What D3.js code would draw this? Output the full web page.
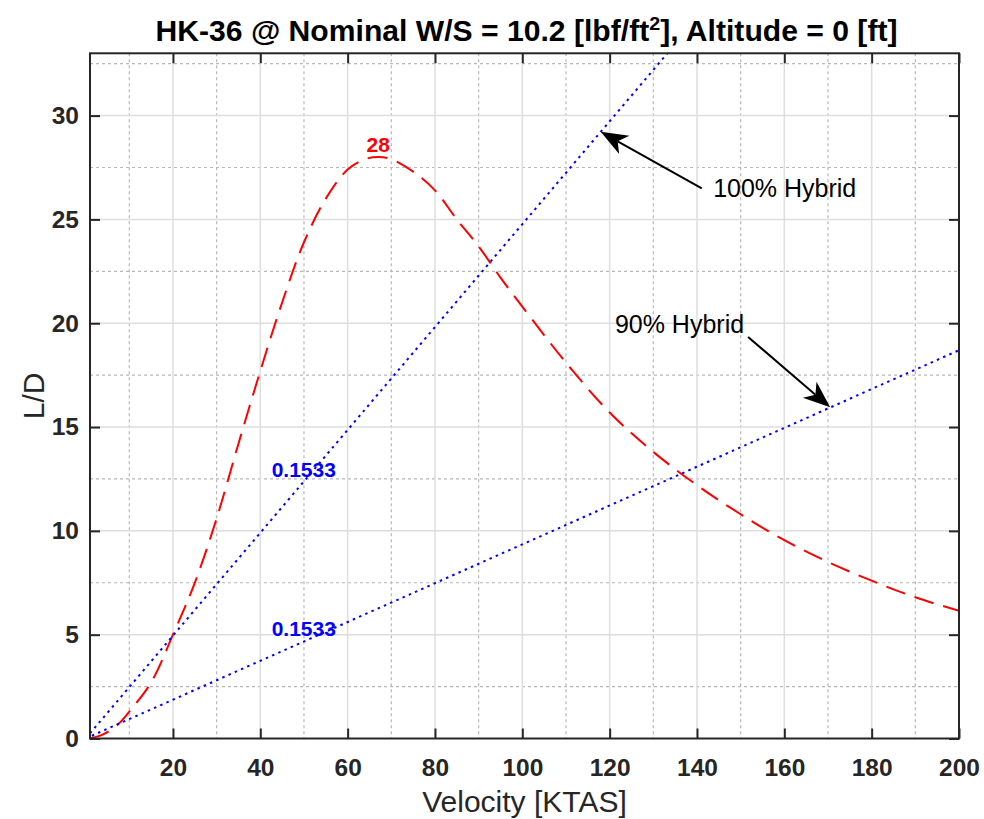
<!DOCTYPE html>
<html>
<head>
<meta charset="utf-8">
<script src="https://cdn.jsdelivr.net/npm/d3@7"></script>
<style>
  html, body { margin: 0; padding: 0; background: #fff; }
  svg { display: block; }
  text { font-family: "Liberation Sans", Arial, Helvetica, sans-serif; }
</style>
</head>
<body>
<svg id="chart" width="984" height="819"></svg>
<script>
// ---- data ----
const velocity = [1, 4, 7.5, 10, 15, 20, 25, 30, 35, 40, 45, 50, 55, 60, 64, 67, 70, 75, 80, 85, 90, 95, 100, 110, 120, 130, 140, 150, 160, 170, 180, 190, 200];
const liftToDrag = [0.01, 0.2, 0.7, 1.3, 2.7, 5.0, 7.5, 10.6, 14.2, 17.7, 21.0, 23.9, 26.0, 27.4, 27.9, 28.0, 27.9, 27.3, 26.4, 25.0, 23.7, 22.2, 20.8, 18.1, 15.7, 13.8, 12.2, 10.8, 9.55, 8.5, 7.6, 6.8, 6.15];
const hybridV = [0, 200];
const hybrid100 = [0, 49.54];
const hybrid90 = [0, 18.7];
const xTicks = [20, 40, 60, 80, 100, 120, 140, 160, 180, 200];
const yTicks = [0, 5, 10, 15, 20, 25, 30];
const xMinor = [10, 30, 50, 70, 90, 110, 130, 150, 170, 190];
const yMinor = [2.5, 7.5, 12.5, 17.5, 22.5, 27.5, 32.5];
const peakLabel = {v: 67.0, ld: 28.25, text: "28"};
const slopeLabels = [{v: 42.6, ld: 12.61, text: "0.1533"}, {v: 42.6, ld: 4.94, text: "0.1533"}];
const arrows = [
  {text: "100% Hybrid", tv: 143.7, tld: 26.06, v0: 141.1, ld0: 26.5, v1: 117.95, ld1: 29.22},
  {text: "90% Hybrid",  tv: 121.2, tld: 19.51, v0: 151.7, ld0: 19.34, v1: 170.5, ld1: 15.95}
];

// ---- layout ----
const svg = d3.select("#chart");
const L = 90, R = 959, T = 53.3, B = 738.5;
const x = d3.scaleLinear().domain([1, 200]).range([L, R]);
const y = d3.scaleLinear().domain([0, 33]).range([B, T]);
const axisColor = "#262626";

svg.append("defs").append("clipPath").attr("id", "plotclip")
  .append("rect").attr("x", L).attr("y", T).attr("width", R - L).attr("height", B - T);

// minor grid
const g = svg.append("g");
g.selectAll(".xminor").data(xMinor).enter().append("line")
  .attr("x1", d => x(d)).attr("x2", d => x(d)).attr("y1", T).attr("y2", B)
  .attr("stroke", "#b8b8b8").attr("stroke-width", 1.2).attr("stroke-dasharray", "3,3");
g.selectAll(".yminor").data(yMinor).enter().append("line")
  .attr("x1", L).attr("x2", R).attr("y1", d => y(d)).attr("y2", d => y(d))
  .attr("stroke", "#b8b8b8").attr("stroke-width", 1.2).attr("stroke-dasharray", "3,3");
// major grid
g.selectAll(".xmajor").data(xTicks.filter(d => d < 200)).enter().append("line")
  .attr("x1", d => x(d)).attr("x2", d => x(d)).attr("y1", T).attr("y2", B)
  .attr("stroke", "#dedede").attr("stroke-width", 1.5);
g.selectAll(".ymajor").data(yTicks.filter(d => d > 0)).enter().append("line")
  .attr("x1", L).attr("x2", R).attr("y1", d => y(d)).attr("y2", d => y(d))
  .attr("stroke", "#dedede").attr("stroke-width", 1.5);

// lines
const plot = svg.append("g").attr("clip-path", "url(#plotclip)");
const ldData = velocity.map((v, i) => [v, liftToDrag[i]]);
plot.append("path").datum(ldData)
  .attr("d", d3.line().x(d => x(d[0])).y(d => y(d[1])).curve(d3.curveCatmullRom.alpha(0.5)))
  .attr("fill", "none").attr("stroke", "#ff0000").attr("stroke-width", 2).attr("stroke-dasharray", "20,10");
[hybrid100, hybrid90].forEach(arr => {
  plot.append("path").datum(hybridV.map((v, i) => [v, arr[i]]))
    .attr("d", d3.line().x(d => x(d[0])).y(d => y(d[1])))
    .attr("fill", "none").attr("stroke", "#0000ff").attr("stroke-width", 2).attr("stroke-dasharray", "2.5,4.3");
});

// axes
const xAxisB = d3.axisBottom(x).tickValues(xTicks).tickSizeInner(-10).tickSizeOuter(0).tickPadding(20);
const yAxisL = d3.axisLeft(y).tickValues(yTicks).tickSizeInner(-10).tickSizeOuter(0).tickPadding(11);
const gx = svg.append("g").attr("transform", `translate(0,${B})`).call(xAxisB);
const gy = svg.append("g").attr("transform", `translate(${L},0)`).call(yAxisL);
const gxt = svg.append("g").attr("transform", `translate(0,${T})`).call(d3.axisTop(x).tickValues(xTicks).tickSizeInner(-10).tickSizeOuter(0).tickFormat(""));
const gyr = svg.append("g").attr("transform", `translate(${R},0)`).call(d3.axisRight(y).tickValues(yTicks).tickSizeInner(-10).tickSizeOuter(0).tickFormat(""));
[gx, gy, gxt, gyr].forEach(a => {
  a.select(".domain").remove();
  a.selectAll(".tick line").attr("stroke", axisColor).attr("stroke-width", 2);
  a.selectAll("text").attr("fill", axisColor).style("font-size", "24.5px").style("font-weight", "bold")
    .style("font-family", '"Liberation Sans", Arial, Helvetica, sans-serif');
});
gx.selectAll("text").attr("dy", "0.71em");
svg.append("rect").attr("x", L).attr("y", T).attr("width", R - L).attr("height", B - T)
  .attr("fill", "none").attr("stroke", axisColor).attr("stroke-width", 2);

// labels
svg.append("text").attr("x", (L + R) / 2).attr("y", 812).attr("text-anchor", "middle")
  .attr("fill", axisColor).style("font-size", "30px").text("Velocity [KTAS]");
svg.append("text").attr("transform", `translate(44,${(T + B) / 2}) rotate(-90)`).attr("text-anchor", "middle")
  .attr("fill", axisColor).style("font-size", "30px").text("L/D");
const title = svg.append("text").attr("x", (L + R) / 2 + 2).attr("y", 41).attr("text-anchor", "middle")
  .attr("fill", "#000").style("font-size", "29px").style("font-weight", "bold")
  .attr("textLength", 742).attr("lengthAdjust", "spacingAndGlyphs");
title.append("tspan").text("HK-36 @ Nominal W/S = 10.2 [lbf/ft");
title.append("tspan").attr("dy", -11).style("font-size", "19px").text("2");
title.append("tspan").attr("dy", 11).text("], Altitude = 0 [ft]");

// data labels
svg.append("text").attr("x", x(peakLabel.v)).attr("y", y(peakLabel.ld)).attr("text-anchor", "middle")
  .attr("fill", "#ff0000").style("font-size", "21px").style("font-weight", "bold").text(peakLabel.text);
svg.selectAll(".slope").data(slopeLabels).enter().append("text")
  .attr("x", d => x(d.v)).attr("y", d => y(d.ld))
  .attr("fill", "#0000ff").style("font-size", "21px").style("font-weight", "bold").text(d => d.text);

// arrows
arrows.forEach(a => {
  const x0 = x(a.v0), y0 = y(a.ld0), x1 = x(a.v1), y1 = y(a.ld1);
  const dx = x1 - x0, dy = y1 - y0, len = Math.hypot(dx, dy);
  const ux = dx / len, uy = dy / len, px = -uy, py = ux;
  const hl = 27, hw = 10.5;
  const bx = x1 - ux * hl, by = y1 - uy * hl;
  const nx = x1 - ux * hl * 0.72, ny = y1 - uy * hl * 0.72;
  svg.append("line").attr("x1", x0).attr("y1", y0).attr("x2", nx).attr("y2", ny)
    .attr("stroke", "#000").attr("stroke-width", 2);
  svg.append("path")
    .attr("d", `M${x1},${y1}L${bx + px * hw},${by + py * hw}L${nx},${ny}L${bx - px * hw},${by - py * hw}Z`)
    .attr("fill", "#000");
  svg.append("text").attr("x", x(a.tv)).attr("y", y(a.tld)).attr("fill", "#000")
    .style("font-size", "25px").text(a.text);
});
</script>
</body>
</html>
